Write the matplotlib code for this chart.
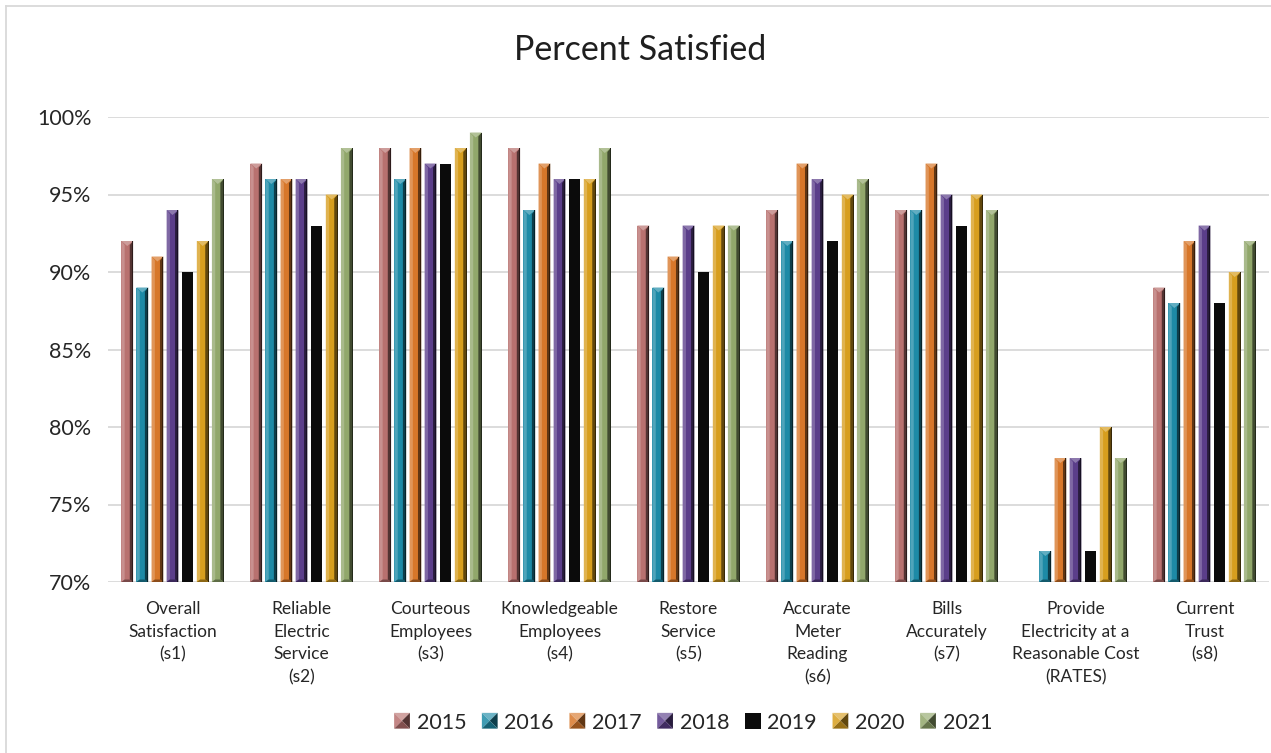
import numpy as np
import matplotlib
matplotlib.use("Agg")
import matplotlib.pyplot as plt
from matplotlib.patches import Polygon, Rectangle
from matplotlib.colors import to_rgb
from matplotlib.lines import Line2D
from matplotlib.ticker import FuncFormatter

# ---- data -------------------------------------------------------------
categories = [
    "Overall\nSatisfaction\n(s1)",
    "Reliable\nElectric\nService\n(s2)",
    "Courteous\nEmployees\n(s3)",
    "Knowledgeable\nEmployees\n(s4)",
    "Restore\nService\n(s5)",
    "Accurate\nMeter\nReading\n(s6)",
    "Bills\nAccurately\n(s7)",
    "Provide\nElectricity at a\nReasonable Cost\n(RATES)",
    "Current\nTrust\n(s8)",
]
years = ["2015", "2016", "2017", "2018", "2019", "2020", "2021"]

pct_2015 = [92, 97, 98, 98, 93, 94, 94, np.nan, 89]
pct_2016 = [89, 96, 96, 94, 89, 92, 94, 72, 88]
pct_2017 = [91, 96, 98, 97, 91, 97, 97, 78, 92]
pct_2018 = [94, 96, 97, 96, 93, 96, 95, 78, 93]
pct_2019 = [90, 93, 97, 96, 90, 92, 93, 72, 88]
pct_2020 = [92, 95, 98, 96, 93, 95, 95, 80, 90]
pct_2021 = [96, 98, 99, 98, 93, 96, 94, 78, 92]
series = [pct_2015, pct_2016, pct_2017, pct_2018, pct_2019, pct_2020, pct_2021]

colors = ["#b8716f", "#1d8aa6", "#d7772a", "#5b3e8a", "#0b0b0b", "#d79e1e", "#91a76b"]

y_ticks = [70, 75, 80, 85, 90, 95, 100]

# ---- helpers ----------------------------------------------------------
def mix(c, other, f):
    c = np.array(to_rgb(c))
    o = np.array(to_rgb(other))
    return tuple(c * (1 - f) + o * f)

def light(c, f):
    return mix(c, "white", f)

def dark(c, f):
    return mix(c, "black", f)

# ---- figure -----------------------------------------------------------
plt.rcParams["font.family"] = ["Lato", "DejaVu Sans"]
W, H, DPI = 1271, 753, 100
fig = plt.figure(figsize=(W / DPI, H / DPI), dpi=DPI)
ax_rect = [108 / W, 1 - 582 / H, (1269 - 108) / W, (582 - 117) / H]
ax = fig.add_axes(ax_rect)

ymin, ymax = 70, 100
n_cat = len(categories)
ax.set_xlim(-0.5, n_cat - 0.5)
ax.set_ylim(ymin, ymax)

# pixel -> data scale, used for bevel sizes
px_x = (n_cat) / (ax_rect[2] * W)
px_y = (ymax - ymin) / (ax_rect[3] * H)

slot = 0.117
bar_w = 0.091
x = np.arange(n_cat)

for j, (vals, col) in enumerate(zip(series, colors)):
    offs = (j - (len(series) - 1) / 2) * slot
    for i, v in enumerate(vals):
        if np.isnan(v):
            continue
        x0 = x[i] + offs - bar_w / 2
        x1 = x0 + bar_w
        xc = (x0 + x1) / 2
        top, bot = v, ymin
        dx = 3.3 * px_x
        dyt = 5.0 * px_y
        dyb = 2.5 * px_y
        is_black = col == "#0b0b0b"
        # body
        ax.add_patch(Rectangle((x0, bot), bar_w, top - bot, facecolor=col,
                               edgecolor="none", zorder=3))
        if is_black:
            continue
        # left facet (highlight)
        ax.add_patch(Polygon([(x0, top), (x0 + dx, top - dyt * 0.8),
                              (x0 + dx, bot + dyb), (x0, bot)],
                             closed=True, facecolor=light(col, 0.22),
                             edgecolor="none", zorder=4))
        # right facet (shadow)
        ax.add_patch(Polygon([(x1, top), (x1 - dx, top - dyt * 0.8),
                              (x1 - dx, bot + dyb), (x1, bot)],
                             closed=True, facecolor=dark(col, 0.55),
                             edgecolor="none", zorder=4))
        # top facet
        ax.add_patch(Polygon([(x0, top), (x1, top), (xc, top - dyt)],
                             closed=True, facecolor=light(col, 0.30),
                             edgecolor="none", zorder=5))
        # bottom facet
        ax.add_patch(Polygon([(x0, bot), (x1, bot), (x1 - dx, bot + dyb),
                              (x0 + dx, bot + dyb)],
                             closed=True, facecolor=dark(col, 0.35),
                             edgecolor="none", zorder=4))
        # thin dark edge on the right
        ax.add_patch(Rectangle((x1 - 1.0 * px_x, bot), 1.0 * px_x, top - bot,
                               facecolor=dark(col, 0.75), edgecolor="none",
                               zorder=5))

# ---- axes styling -----------------------------------------------------
ax.set_yticks(y_ticks)
ax.yaxis.set_major_formatter(FuncFormatter(lambda v, p: f"{v:.0f}%"))
ax.grid(axis="y", color="#d9d9d9", linewidth=1.3, zorder=0)
ax.set_axisbelow(True)
for s in ax.spines.values():
    s.set_visible(False)
ax.tick_params(axis="y", length=0, pad=12, labelsize=15.5, labelcolor="#262626")
ax.set_xticks(x)
ax.set_xticklabels(categories, fontsize=12.5, color="#262626", linespacing=1.5)
ax.tick_params(axis="x", length=0, pad=14)

# ---- title ------------------------------------------------------------
fig.text(640 / W, 1 - 50 / H, "Percent Satisfied", ha="center", va="center",
         fontsize=24.5, color="#1f1f1f")

# ---- legend with bevelled square keys ----------------------------------
class BevelKey:
    def __init__(self, color):
        self.color = color


class BevelKeyHandler:
    def legend_artist(self, legend, orig_handle, fontsize, handlebox):
        x0, y0 = handlebox.xdescent, handlebox.ydescent
        w, h = handlebox.width, handlebox.height
        s = min(w, h)
        x0 = x0 + (w - s) / 2
        y0 = y0 + (h - s) / 2
        c = orig_handle.color
        cx, cy = x0 + s / 2, y0 + s / 2
        tr = handlebox.get_transform()
        if c == "#0b0b0b":
            faces = [([(x0, y0), (x0 + s, y0), (x0 + s, y0 + s), (x0, y0 + s)], c)]
        else:
            faces = [
                ([(x0, y0 + s), (x0 + s, y0 + s), (cx, cy)], light(c, 0.35)),
                ([(x0, y0), (x0, y0 + s), (cx, cy)], light(c, 0.15)),
                ([(x0 + s, y0), (x0 + s, y0 + s), (cx, cy)], dark(c, 0.55)),
                ([(x0, y0), (x0 + s, y0), (cx, cy)], dark(c, 0.30)),
            ]
        for pts, fc in faces:
            handlebox.add_artist(Polygon(pts, closed=True, facecolor=fc,
                                         edgecolor="none", transform=tr))
        return None


keys = [BevelKey(c) for c in colors]
fig.legend(keys, years, handler_map={BevelKey: BevelKeyHandler()},
           loc="center", bbox_to_anchor=(693 / W, 1 - 723 / H), ncol=7,
           frameon=False, fontsize=15.5, handlelength=0.75, handleheight=0.75,
           handletextpad=0.3, columnspacing=0.72, labelcolor="#262626")

# ---- chart-area border -------------------------------------------------
fig.add_artist(Line2D([6 / W, 1], [1 - 6 / H, 1 - 6 / H], color="#d9d9d9",
                      linewidth=1.3, transform=fig.transFigure))
fig.add_artist(Line2D([6 / W, 6 / W], [0, 1 - 6 / H], color="#d9d9d9",
                      linewidth=1.3, transform=fig.transFigure))

fig.savefig("out.png", dpi=DPI, facecolor="white")
